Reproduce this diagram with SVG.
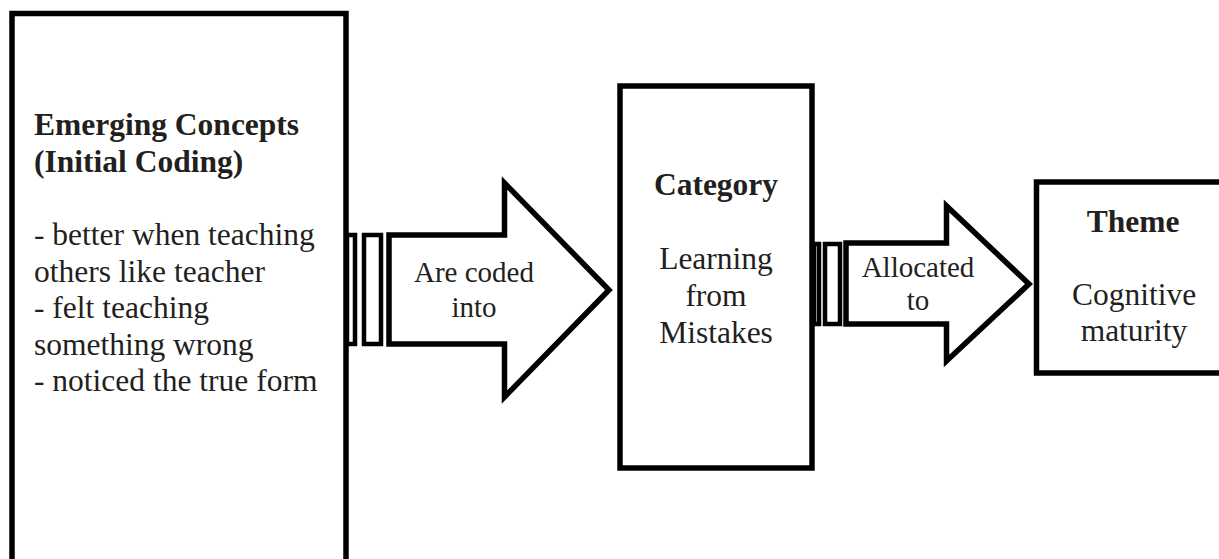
<svg xmlns="http://www.w3.org/2000/svg" width="1219" height="559" viewBox="0 0 1219 559">
<style>
.box{fill:#fff;stroke:#000;stroke-width:5.5}
.arr{fill:#fff;stroke:#000;stroke-width:5.5;stroke-linejoin:miter;stroke-miterlimit:10}
.bar{fill:#fff;stroke:#000;stroke-width:4.5}
text{font-family:"Liberation Serif","Times New Roman",serif;fill:#231f20}
.h{font-weight:bold;font-size:31.5px}
.t{font-size:31.5px}
.l{font-size:29px}
.c{text-anchor:middle}
</style>
<rect width="1219" height="559" fill="#fff"/>
<g id="concepts">
<rect class="box" x="12" y="13.5" width="334" height="600"/>
<text class="h" x="34" y="135">Emerging Concepts</text>
<text class="h" x="34" y="172">(Initial Coding)</text>
<text class="t" x="34" y="245">- better when teaching</text>
<text class="t" x="34" y="281.5">others like teacher</text>
<text class="t" x="34" y="318">- felt teaching</text>
<text class="t" x="34" y="354.5">something wrong</text>
<text class="t" x="34" y="391">- noticed the true form</text>
</g>
<g id="category">
<rect class="box" x="620" y="86" width="192" height="382"/>
<text class="h c" x="716" y="195">Category</text>
<text class="t c" x="716" y="269">Learning</text>
<text class="t c" x="716" y="306">from</text>
<text class="t c" x="716" y="343">Mistakes</text>
</g>
<g id="theme">
<rect class="box" x="1036.5" y="182" width="200" height="191"/>
<text class="h c" x="1133" y="232">Theme</text>
<text class="t c" x="1134" y="305">Cognitive</text>
<text class="t c" x="1134" y="341">maturity</text>
</g>
<g id="connectors">
<g id="arrow1">
<rect class="bar" x="347" y="235" width="8" height="109"/>
<rect class="bar" x="364" y="235" width="17" height="109"/>
<polygon class="arr" points="389,235 504.5,235 504.5,183 609,290 504.5,397 504.5,344 389,344"/>
<text class="l c" x="474" y="282">Are coded</text>
<text class="l c" x="474" y="317">into</text>
</g>
<g id="arrow2">
<rect class="bar" x="814" y="244" width="5" height="80"/>
<rect class="bar" x="825" y="244" width="15" height="80"/>
<polygon class="arr" points="846,243 946.5,243 946.5,206 1029,284 946.5,361 946.5,324 846,324"/>
<text class="l c" x="918" y="277">Allocated</text>
<text class="l c" x="918" y="310">to</text>
</g>
</g>
</svg>
